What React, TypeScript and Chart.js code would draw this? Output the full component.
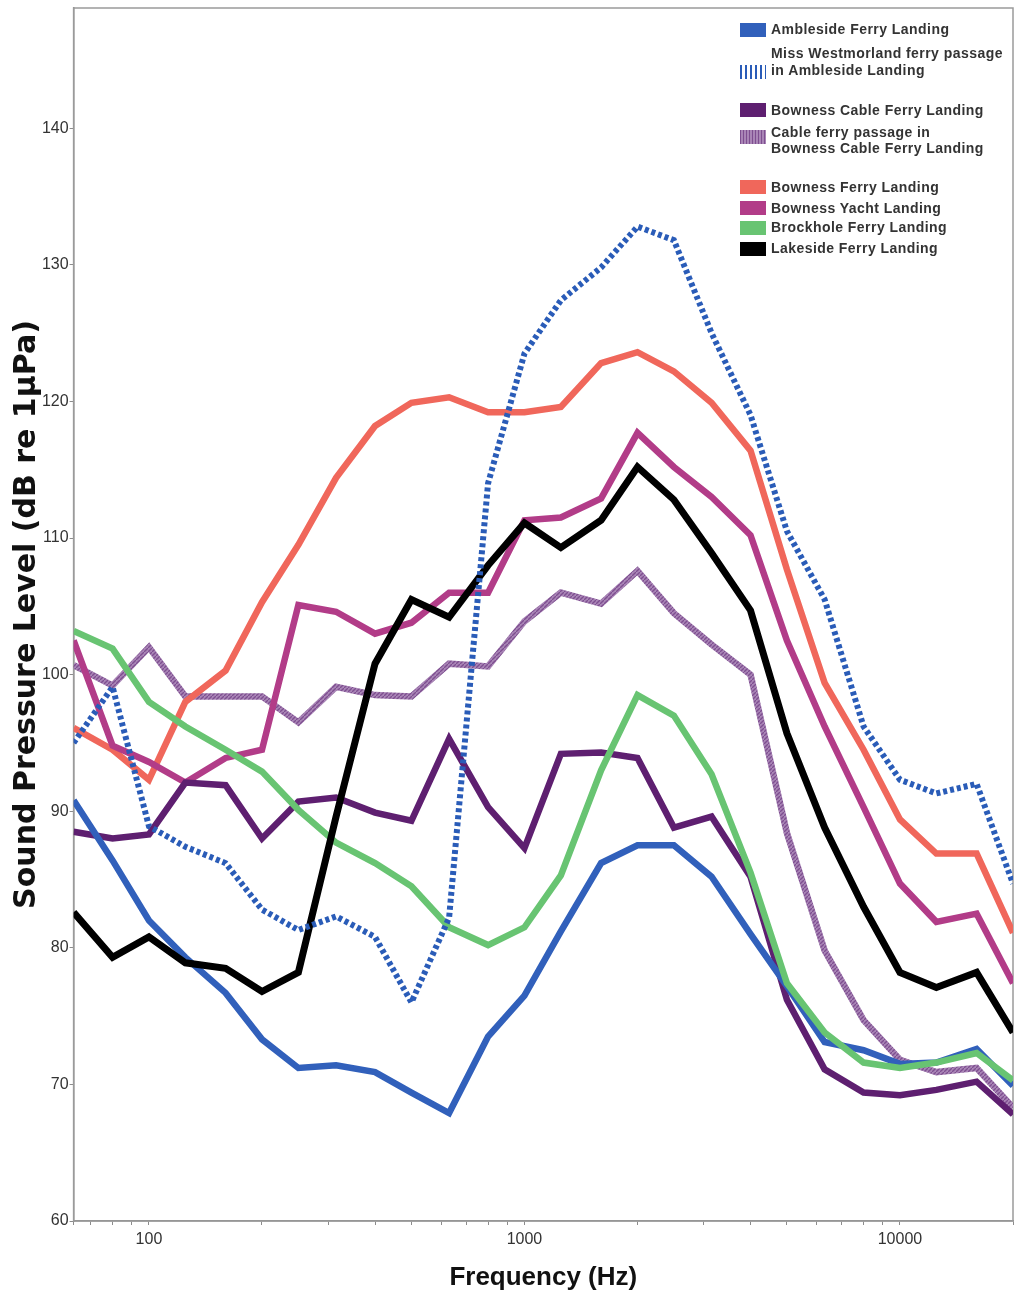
import React, { useEffect, useRef } from "react";
import { Chart, registerables } from "chart.js";

Chart.register(...registerables);

// Third-octave band centre frequencies (Hz)
const frequencies = [63, 80, 100, 125, 160, 200, 250, 315, 400, 500, 630, 800, 1000, 1250, 1600, 2000, 2500, 3150, 4000, 5000, 6300, 8000, 10000, 12500, 16000, 20000];

// Sound pressure levels (dB re 1µPa)
const ambleside = [90.8, 86.4, 82.0, 79.3, 76.7, 73.3, 71.2, 71.4, 70.9, 69.4, 67.9, 73.5, 76.5, 81.2, 86.2, 87.5, 87.5, 85.2, 81.0, 77.2, 73.1, 72.5, 71.5, 71.6, 72.6, 69.9];
const missWestmorland = [95.0, 99.1, 88.9, 87.4, 86.2, 82.8, 81.3, 82.3, 80.8, 76.0, 82.2, 114.0, 123.5, 127.4, 129.8, 132.8, 131.8, 125.0, 119.0, 110.5, 105.5, 96.2, 92.3, 91.3, 92.0, 84.7];
const bownessCable = [88.5, 88.0, 88.3, 92.1, 91.9, 88.0, 90.7, 91.0, 89.9, 89.3, 95.3, 90.3, 87.3, 94.2, 94.3, 93.9, 88.8, 89.6, 85.2, 76.2, 71.1, 69.4, 69.2, 69.6, 70.2, 67.8];
const cablePassage = [100.7, 99.2, 102.0, 98.4, 98.4, 98.4, 96.5, 99.1, 98.5, 98.4, 100.8, 100.6, 103.9, 106.0, 105.2, 107.6, 104.5, 102.2, 100.0, 88.4, 79.8, 74.7, 71.8, 70.9, 71.2, 68.3];
const bownessFerry = [96.1, 94.5, 92.3, 98.0, 100.3, 105.3, 109.5, 114.4, 118.2, 119.9, 120.3, 119.2, 119.2, 119.6, 122.8, 123.6, 122.2, 119.9, 116.4, 107.7, 99.4, 94.5, 89.4, 86.9, 86.9, 81.1];
const bownessYacht = [102.5, 94.8, 93.6, 92.1, 93.9, 94.5, 105.1, 104.6, 103.0, 103.8, 106.0, 106.0, 111.3, 111.5, 112.9, 117.7, 115.2, 113.0, 110.2, 102.5, 96.2, 90.3, 84.7, 81.9, 82.5, 77.4];
const brockhole = [103.2, 101.9, 98.0, 96.2, 94.5, 92.9, 90.1, 87.7, 86.2, 84.5, 81.5, 80.2, 81.5, 85.3, 93.0, 98.5, 97.0, 92.7, 85.5, 77.4, 73.8, 71.6, 71.2, 71.6, 72.3, 70.3];
const lakeside = [82.6, 79.3, 80.8, 78.9, 78.5, 76.8, 78.2, 89.6, 100.8, 105.5, 104.2, 108.0, 111.1, 109.3, 111.3, 115.2, 112.8, 108.9, 104.7, 95.7, 88.8, 83.0, 78.2, 77.1, 78.2, 73.8];

// Axis ticks
const xTickValues = [63, 70, 80, 90, 100, 200, 300, 400, 500, 600, 700, 800, 900, 1000, 2000, 3000, 4000, 5000, 6000, 7000, 8000, 9000, 10000, 20000];
const xTickLabels = [100, 1000, 10000];
const yTickStep = 10;

const COLORS = {
  ambleside: "#3160bb",
  miss: "#2a5cb8",
  cable: "#5e1f70",
  passageA: "#a985b6",
  passageB: "#7e4f90",
  ferry: "#f0675b",
  yacht: "#b23c88",
  brock: "#68c472",
  lake: "#000000",
};

const SANS = "'Liberation Sans', Arial, sans-serif";

type LegendItem = { lines: string[]; swatch: React.CSSProperties; swTop: number; capTops: number[] };

const legendItems: LegendItem[] = [
  { lines: ["Ambleside Ferry Landing"], swatch: { background: COLORS.ambleside }, swTop: 23, capTops: [24] },
  {
    lines: ["Miss Westmorland ferry passage", "in Ambleside Landing"],
    swatch: { background: `repeating-linear-gradient(90deg, ${COLORS.miss} 0px, ${COLORS.miss} 2px, transparent 2px, transparent 5px)` },
    swTop: 65,
    capTops: [48, 65],
  },
  { lines: ["Bowness Cable Ferry Landing"], swatch: { background: COLORS.cable }, swTop: 103, capTops: [105] },
  {
    lines: ["Cable ferry passage in", "Bowness Cable Ferry Landing"],
    swatch: { background: `repeating-linear-gradient(90deg, ${COLORS.passageB} 0px, ${COLORS.passageB} 1.5px, ${COLORS.passageA} 1.5px, ${COLORS.passageA} 3px)` },
    swTop: 130,
    capTops: [127, 143],
  },
  { lines: ["Bowness Ferry Landing"], swatch: { background: COLORS.ferry }, swTop: 180, capTops: [182] },
  { lines: ["Bowness Yacht Landing"], swatch: { background: COLORS.yacht }, swTop: 201, capTops: [203] },
  { lines: ["Brockhole Ferry Landing"], swatch: { background: COLORS.brock }, swTop: 221, capTops: [222] },
  { lines: ["Lakeside Ferry Landing"], swatch: { background: COLORS.lake }, swTop: 242, capTops: [243] },
];

const zeroPadding = (scale: any) => {
  scale.paddingTop = 0;
  scale.paddingBottom = 0;
  scale.paddingLeft = 0;
  scale.paddingRight = 0;
};

export default function App() {
  const canvasRef = useRef<HTMLCanvasElement | null>(null);

  useEffect(() => {
    const canvas = canvasRef.current;
    if (!canvas) return;
    const ctx = canvas.getContext("2d")!;

    const pc = document.createElement("canvas");
    pc.width = 4;
    pc.height = 4;
    const pctx = pc.getContext("2d")!;
    pctx.fillStyle = COLORS.passageA;
    pctx.fillRect(0, 0, 4, 4);
    pctx.strokeStyle = COLORS.passageB;
    pctx.lineWidth = 1.3;
    pctx.beginPath();
    pctx.moveTo(-1, 5);
    pctx.lineTo(5, -1);
    pctx.stroke();
    const hatch = ctx.createPattern(pc, "repeat") || COLORS.passageA;

    const frame = {
      id: "frameBox",
      beforeDatasetsDraw(chart: any) {
        const { left, top, right, bottom } = chart.chartArea;
        const c = chart.ctx;
        c.save();
        c.strokeStyle = "#9a9a9a";
        c.lineWidth = 1.5;
        c.strokeRect(left, top, right - left, bottom - top);
        c.restore();
      },
    };

    const line = (label: string, data: number[], color: any, width: number, order: number, extra: any = {}) => ({
      label,
      data: frequencies.map((f, i) => ({ x: f, y: data[i] })),
      borderColor: color,
      backgroundColor: color,
      borderWidth: width,
      pointRadius: 0,
      tension: 0,
      fill: false,
      order,
      ...extra,
    });

    const chart = new Chart(ctx, {
      type: "line",
      data: {
        datasets: [
          line("Ambleside Ferry Landing", ambleside, COLORS.ambleside, 6.5, 3),
          line("Miss Westmorland ferry passage in Ambleside Landing", missWestmorland, COLORS.miss, 6, 0, { borderDash: [4, 3], borderCapStyle: "butt" }),
          line("Bowness Cable Ferry Landing", bownessCable, COLORS.cable, 6.5, 4),
          line("Cable ferry passage in Bowness Cable Ferry Landing", cablePassage, hatch, 6.5, 7),
          line("Bowness Ferry Landing", bownessFerry, COLORS.ferry, 6.5, 6),
          line("Bowness Yacht Landing", bownessYacht, COLORS.yacht, 6.5, 5),
          line("Brockhole Ferry Landing", brockhole, COLORS.brock, 6.5, 2),
          line("Lakeside Ferry Landing", lakeside, COLORS.lake, 7, 1),
        ],
      },
      options: {
        animation: false,
        responsive: false,
        maintainAspectRatio: false,
        devicePixelRatio: 1,
        layout: { padding: { top: 8, right: 2, bottom: 5, left: 0 } },
        plugins: {
          legend: { display: false },
          tooltip: { enabled: false },
        },
        scales: {
          x: {
            type: "logarithmic",
            min: 63,
            max: 20000,
            afterFit(scale: any) {
              scale.height = 74;
              zeroPadding(scale);
            },
            afterBuildTicks(scale: any) {
              scale.ticks = xTickValues.map((v) => ({ value: v }));
            },
            border: { display: true, color: "#8c8c8c", width: 1.5 },
            grid: { display: true, drawOnChartArea: false, drawTicks: true, tickLength: 4, color: "#8c8c8c" },
            ticks: {
              autoSkip: false,
              maxRotation: 0,
              minRotation: 0,
              padding: 5,
              color: "#333333",
              font: { family: SANS, size: 16 },
              callback: (value: any) => (xTickLabels.includes(Number(value)) ? String(value) : ""),
            },
            title: {
              display: true,
              text: "Frequency (Hz)",
              color: "#111111",
              font: { family: SANS, size: 26, weight: "bold" },
              padding: { top: 0, bottom: 2 },
            },
          },
          y: {
            type: "linear",
            min: 60,
            max: 148.8,
            afterFit(scale: any) {
              scale.width = 73.6;
              zeroPadding(scale);
            },
            afterBuildTicks(scale: any) {
              scale.ticks = scale.ticks.filter((t: any) => Math.abs(t.value / yTickStep - Math.round(t.value / yTickStep)) < 1e-6);
            },
            border: { display: true, color: "#8c8c8c", width: 1.5 },
            grid: { display: true, drawOnChartArea: false, drawTicks: true, tickLength: 4, color: "#8c8c8c" },
            ticks: {
              stepSize: yTickStep,
              padding: 1,
              color: "#333333",
              font: { family: SANS, size: 16 },
            },
            title: {
              display: true,
              text: "Sound Pressure Level (dB re 1µPa)",
              color: "#111111",
              font: { family: "'DejaVu Sans', sans-serif", size: 30, weight: "bold" },
              padding: { top: 9, bottom: 0 },
            },
          },
        },
      },
      plugins: [frame],
    });

    return () => chart.destroy();
  }, []);

  return (
    <div style={{ position: "absolute", left: 0, top: 0, width: 1015, height: 1300, background: "#ffffff" }}>
      <canvas ref={canvasRef} width={1015} height={1300} style={{ display: "block", width: 1015, height: 1300 }} />
      {legendItems.map((item, i) => (
        <React.Fragment key={i}>
          <div style={{ position: "absolute", left: 740, top: item.swTop, width: 26, height: 14, ...item.swatch }} />
          {item.lines.map((ln, j) => (
            <div
              key={j}
              style={{
                position: "absolute",
                left: 771,
                top: item.capTops[j] - 3,
                lineHeight: "16px",
                whiteSpace: "nowrap",
                fontFamily: SANS,
                fontWeight: "bold",
                fontSize: 14,
                letterSpacing: "0.45px",
                color: "#333333",
              }}
            >
              {ln}
            </div>
          ))}
        </React.Fragment>
      ))}
    </div>
  );
}
